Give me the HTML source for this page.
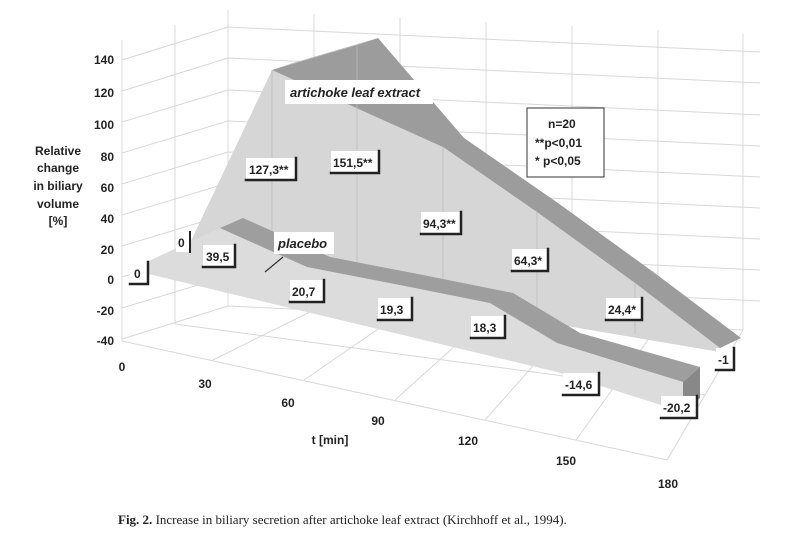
<!DOCTYPE html>
<html><head><meta charset="utf-8"><style>
html,body{margin:0;padding:0;background:#fff;}
svg{display:block;font-family:"Liberation Sans",Arial,sans-serif;}
.t{font-size:12px;font-weight:bold;fill:#222;}
</style></head><body>
<svg width="795" height="534" viewBox="0 0 795 534" xmlns="http://www.w3.org/2000/svg">
<defs>
<g id="sh"></g>
</defs>
<rect width="795" height="534" fill="#fff"/>
<g stroke="#d8d8d8" stroke-width="1" fill="none">
<line x1="122" y1="60" x2="228" y2="27"/><line x1="122" y1="91" x2="228" y2="58"/>
<line x1="122" y1="122" x2="228" y2="90"/><line x1="122" y1="153" x2="228" y2="121"/>
<line x1="122" y1="184" x2="228" y2="152"/><line x1="122" y1="215" x2="228" y2="183"/>
<line x1="122" y1="246" x2="228" y2="214"/><line x1="122" y1="277" x2="228" y2="245"/>
<line x1="122" y1="308" x2="228" y2="276"/><line x1="122" y1="339" x2="228" y2="306"/>
<line x1="122" y1="40" x2="122" y2="341"/><line x1="175" y1="25" x2="175" y2="324"/><line x1="228" y1="10" x2="228" y2="306"/>
<line x1="228" y1="27" x2="760" y2="52"/><line x1="228" y1="58" x2="760" y2="83"/>
<line x1="228" y1="90" x2="760" y2="115"/><line x1="228" y1="121" x2="760" y2="146"/>
<line x1="228" y1="152" x2="760" y2="177"/><line x1="228" y1="183" x2="760" y2="208"/>
<line x1="228" y1="214" x2="760" y2="239"/><line x1="228" y1="245" x2="760" y2="270"/>
<line x1="228" y1="276" x2="760" y2="301"/><line x1="228" y1="306" x2="743" y2="330"/>
<line x1="314" y1="14" x2="314" y2="310"/><line x1="400" y1="18" x2="400" y2="314"/>
<line x1="486" y1="22" x2="486" y2="318"/><line x1="572" y1="26" x2="572" y2="322"/>
<line x1="658" y1="30" x2="658" y2="326"/><line x1="743" y1="34" x2="743" y2="330"/>
<line x1="122" y1="341" x2="667" y2="460"/>
<line x1="743" y1="330" x2="667" y2="460"/>
<line x1="175" y1="324" x2="705" y2="395"/>
<line x1="213" y1="360" x2="314" y2="310"/><line x1="304" y1="380" x2="400" y2="314"/>
<line x1="395" y1="400" x2="486" y2="318"/><line x1="485" y1="420" x2="572" y2="322"/>
<line x1="576" y1="440" x2="658" y2="326"/>
</g>
<polygon points="190,243 272,70 357,45 443,147 537,212 635,283 720,348 720,352 190,262" fill="#d6d6d6"/>
<polygon points="272,70 357,45 378,38 464,138 558,203 656,274 741,338 720,348 635,283 537,212 443,147" fill="#9c9c9c"/>
<polygon points="272,70 293,63 378,38 357,45" fill="#b8b8b8"/>
<g stroke="#bbb" stroke-width="0.8"><line x1="272" y1="70" x2="272" y2="275"/><line x1="357" y1="45" x2="357" y2="288"/><line x1="443" y1="147" x2="443" y2="302"/><line x1="537" y1="212" x2="537" y2="318"/><line x1="635" y1="283" x2="635" y2="334"/></g>
<polygon points="140,265 220,228 307,267 400,285 490,303 557,343 683,382 683,412 557,372 140,272" fill="#dcdcdc"/>
<polygon points="220,228 243,218 330,257 423,275 513,293 580,333 700,367 683,382 557,343 490,303 400,285 307,267" fill="#9e9e9e"/>
<polygon points="683,382 700,367 700,398 683,412" fill="#888"/>
<line x1="265" y1="272" x2="283" y2="257" stroke="#333" stroke-width="1.2"/>
<g class="t">
<g><rect x="285" y="80" width="148" height="24" fill="#fff"/><text x="290" y="97" font-style="italic" font-size="13">artichoke leaf extract</text></g>
<g><rect x="274" y="232" width="60" height="22" fill="#fff"/><text x="278" y="248" font-style="italic" font-size="13">placebo</text></g>
<rect x="527" y="108" width="77" height="69" fill="#fff" stroke="#333"/>
<text x="548" y="128">n=20</text><text x="535" y="147">**p&lt;0,01</text><text x="535" y="165">*  p&lt;0,05</text>
</g>
<g class="t" stroke-linecap="square">
<g><rect x="130" y="262" width="18" height="22" fill="#fff"/><path d="M148 262V284H130" stroke="#222" stroke-width="2.5" fill="none"/><text x="134" y="278">0</text></g>
<g><rect x="176" y="232" width="14" height="20" fill="#fff"/><path d="M190 232V252" stroke="#222" stroke-width="2" fill="none"/><text x="178" y="247">0</text></g>
<g><rect x="203" y="245" width="32" height="22" fill="#fff"/><path d="M235 245V267H203" stroke="#222" stroke-width="2.5" fill="none"/><text x="206" y="261">39,5</text></g>
<g><rect x="246" y="158" width="50" height="22" fill="#fff"/><path d="M296 158V180H246" stroke="#222" stroke-width="2.5" fill="none"/><text x="249" y="174">127,3**</text></g>
<g><rect x="331" y="151" width="48" height="22" fill="#fff"/><path d="M379 151V173H331" stroke="#222" stroke-width="2.5" fill="none"/><text x="333" y="167">151,5**</text></g>
<g><rect x="421" y="212" width="40" height="22" fill="#fff"/><path d="M461 212V234H421" stroke="#222" stroke-width="2.5" fill="none"/><text x="423" y="228">94,3**</text></g>
<g><rect x="290" y="280" width="34" height="22" fill="#fff"/><path d="M324 280V302H290" stroke="#222" stroke-width="2.5" fill="none"/><text x="292" y="296">20,7</text></g>
<g><rect x="378" y="298" width="34" height="22" fill="#fff"/><path d="M412 298V320H378" stroke="#222" stroke-width="2.5" fill="none"/><text x="380" y="314">19,3</text></g>
<g><rect x="471" y="316" width="34" height="22" fill="#fff"/><path d="M505 316V338H471" stroke="#222" stroke-width="2.5" fill="none"/><text x="473" y="332">18,3</text></g>
<g><rect x="512" y="249" width="36" height="22" fill="#fff"/><path d="M548 249V271H512" stroke="#222" stroke-width="2.5" fill="none"/><text x="514" y="265">64,3*</text></g>
<g><rect x="606" y="298" width="36" height="22" fill="#fff"/><path d="M642 298V320H606" stroke="#222" stroke-width="2.5" fill="none"/><text x="608" y="314">24,4*</text></g>
<g><rect x="716" y="348" width="18" height="22" fill="#fff"/><path d="M734 348V370H716" stroke="#222" stroke-width="2.5" fill="none"/><text x="718" y="364">-1</text></g>
<g><rect x="563" y="373" width="36" height="22" fill="#fff"/><path d="M599 373V395H563" stroke="#222" stroke-width="2.5" fill="none"/><text x="565" y="389">-14,6</text></g>
<g><rect x="661" y="396" width="36" height="22" fill="#fff"/><path d="M697 396V418H661" stroke="#222" stroke-width="2.5" fill="none"/><text x="663" y="412">-20,2</text></g>
</g>
<g class="t" font-size="11" text-anchor="end">
<text x="114" y="64">140</text><text x="114" y="97">120</text><text x="114" y="129">100</text>
<text x="114" y="161">80</text><text x="114" y="192">60</text><text x="114" y="223">40</text>
<text x="114" y="254">20</text><text x="114" y="284">0</text><text x="114" y="315">-20</text><text x="114" y="345">-40</text>
</g>
<g class="t" text-anchor="middle">
<text x="58" y="155">Relative</text><text x="58" y="172">change</text><text x="58" y="190">in biliary</text><text x="58" y="208">volume</text><text x="58" y="225">[%]</text>
</g>
<g class="t" font-size="13" text-anchor="middle">
<text x="122" y="371">0</text><text x="205" y="388">30</text><text x="288" y="407">60</text><text x="378" y="425">90</text>
<text x="468" y="445">120</text><text x="566" y="465">150</text><text x="668" y="488">180</text>
<text x="330" y="444">t [min]</text>
</g>
<text x="118" y="524" font-family="Liberation Serif,serif" font-size="13" fill="#222"><tspan font-weight="bold">Fig. 2.</tspan>  Increase in biliary secretion after artichoke leaf extract (Kirchhoff et al., 1994).</text>
</svg>
</body></html>
